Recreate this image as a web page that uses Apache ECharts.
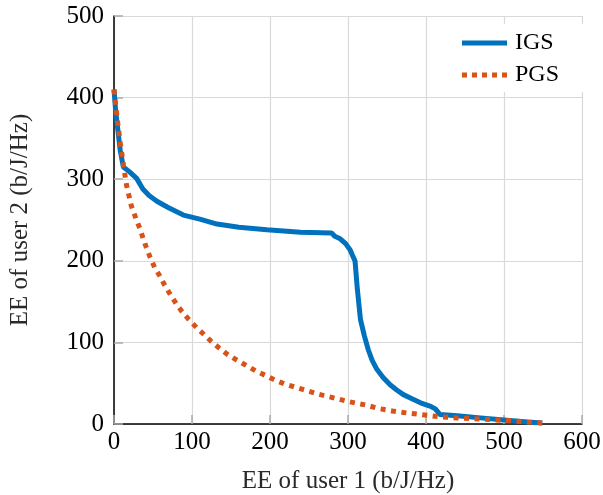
<!DOCTYPE html>
<html>
<head>
<meta charset="utf-8">
<script src="https://cdn.jsdelivr.net/npm/echarts@6/dist/echarts.min.js"></script>
<style>
html,body{margin:0;padding:0;background:#fff;}
#chart{width:603px;height:495px;}
</style>
</head>
<body>
<div id="chart"></div>
<script>
// IGS curve: [EE user 1, EE user 2]
var igsX = [0, 2, 5, 8, 12, 20, 29, 37, 45, 55, 70, 89, 110, 132, 160, 196, 239, 279, 283, 290, 297, 303, 306, 309, 312, 316, 321, 326, 331, 337, 345, 354, 362, 371, 382, 393, 405, 412, 418, 440, 470, 500, 530, 549];
var igsY = [410, 385, 360, 335, 315, 309, 301, 288, 280, 273, 265, 256, 251, 245, 241, 238, 235, 234, 230, 227, 221, 213, 206, 200, 165, 128, 108, 91, 78, 67, 57, 48, 42, 36, 31, 26, 22, 18.5, 11.5, 10, 7.5, 5, 2.5, 1.3];
// PGS curve
var pgsX = [0, 4, 8, 12, 16, 22, 28, 33, 40, 46, 52, 59, 65, 72, 80, 87, 96, 106, 115, 125, 135, 146, 158, 170, 182, 194, 206, 219, 233, 247, 260, 273, 286, 298, 311, 324, 339, 357, 375, 390, 405, 418, 440, 470, 500, 530, 549];
var pgsY = [410, 375, 345, 318, 293, 268, 252, 240, 220, 205, 192, 181, 170, 159, 147, 138, 128, 118, 110, 101, 93, 85, 78, 71.5, 65, 59.6, 54, 49, 45, 41, 37, 34, 31, 28, 25.5, 23, 19, 16, 13.6, 12, 10.3, 8.7, 7.5, 6, 4.5, 2.5, 1.3];
var seriesNames = ['IGS', 'PGS'];
var xTicks = [0, 100, 200, 300, 400, 500, 600];
var yTicks = [0, 100, 200, 300, 400, 500];

function pairs(xs, ys) { return xs.map(function (x, i) { return [x, ys[i]]; }); }

var font = 'Liberation Serif';
var solidIcon = 'path://M0,0H45V5H0Z';
var dotIcon = 'path://M0,0H5V5H0Z M10,0H15V5H10Z M20,0H25V5H20Z M30,0H35V5H30Z M40,0H45V5H40Z';
var chart = echarts.init(document.getElementById('chart'), null, { renderer: 'canvas' });
chart.setOption({
  animation: false,
  backgroundColor: '#fff',
  textStyle: { fontFamily: font },
  grid: { left: 114, top: 16, right: 21, bottom: 71, containLabel: false, outerBoundsMode: 'none' },
  legend: {
    left: 450, top: 24,
    orient: 'vertical',
    backgroundColor: '#fff',
    padding: [7, 26, 5, 12],
    itemWidth: 45, itemHeight: 5, itemGap: 8,
    textStyle: { fontFamily: font, fontSize: 24, color: '#000', padding: [0, 0, 0, 3] },
    data: [
      { name: seriesNames[0], icon: solidIcon, itemStyle: { color: '#0072BD' } },
      { name: seriesNames[1], icon: dotIcon, itemStyle: { color: '#D95319' } }
    ]
  },
  xAxis: {
    type: 'value', min: xTicks[0], max: xTicks[xTicks.length - 1], interval: 100,
    name: 'EE of user 1 (b/J/Hz)', nameLocation: 'middle', nameGap: 45,
    nameTextStyle: { fontFamily: font, fontSize: 25, color: '#2a2a2a' },
    axisLine: { show: true, onZero: false, lineStyle: { color: '#000', width: 1.5 } },
    axisTick: { show: true, inside: true, length: 9, lineStyle: { color: '#aaa', width: 1.5 } },
    axisLabel: { fontFamily: font, fontSize: 25, color: '#000', margin: 6 },
    splitLine: { show: true, lineStyle: { color: '#d9d9d9', width: 1.2 } }
  },
  yAxis: {
    type: 'value', min: yTicks[0], max: yTicks[yTicks.length - 1], interval: 100,
    name: 'EE of user 2 (b/J/Hz)', nameLocation: 'middle', nameGap: 81,
    nameTextStyle: { fontFamily: font, fontSize: 25, color: '#2a2a2a' },
    axisLine: { show: true, onZero: false, lineStyle: { color: '#000', width: 1.5 } },
    axisTick: { show: true, inside: true, length: 9, lineStyle: { color: '#aaa', width: 1.5 } },
    axisLabel: { fontFamily: font, fontSize: 25, color: '#000', margin: 10 },
    splitLine: { show: true, lineStyle: { color: '#d9d9d9', width: 1.2 } }
  },
  series: [
    {
      name: seriesNames[0], type: 'line', data: pairs(igsX, igsY),
      showSymbol: false, symbol: 'none', smooth: false,
      itemStyle: { color: '#0072BD' },
      lineStyle: { color: '#0072BD', width: 5 }, z: 2
    },
    {
      name: seriesNames[1], type: 'line', data: pairs(pgsX, pgsY),
      showSymbol: false, symbol: 'none', smooth: false,
      itemStyle: { color: '#D95319' },
      lineStyle: { color: '#D95319', width: 5, type: [5, 5.5], cap: 'butt' }, z: 3
    }
  ]
});
</script>
</body>
</html>
